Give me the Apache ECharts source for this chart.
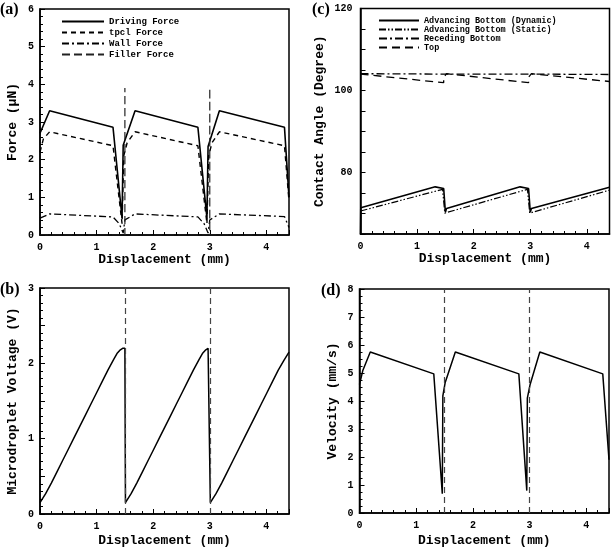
<!DOCTYPE html>
<html>
<head>
<meta charset="utf-8">
<script src="https://cdn.jsdelivr.net/npm/echarts@6/dist/echarts.min.js"></script>
<style>
html,body{margin:0;padding:0;background:#fff;}
#c{width:611px;height:548px;}
</style>
</head>
<body>
<div id="c"></div>
<script>
// ---------- Panel (a): forces ----------
const drivingX = [0, 0.17, 1.29, 1.45, 1.47, 1.68, 2.79, 2.95, 2.97, 3.17, 4.32, 4.4];
const drivingY = [2.7, 3.3, 2.86, 0.45, 2.38, 3.3, 2.86, 0.45, 2.35, 3.3, 2.86, 1.0];
const tpclX = [0, 0.06, 0.17, 1.29, 1.45, 1.48, 1.54, 1.68, 2.79, 2.95, 2.98, 3.04, 3.17, 4.32, 4.4];
const tpclY = [2.2, 2.55, 2.74, 2.37, 0.3, 2.1, 2.45, 2.74, 2.37, 0.3, 2.1, 2.45, 2.74, 2.37, 0.9];
const wallX = [0, 0.17, 1.29, 1.4, 1.47, 1.5, 1.68, 2.79, 2.9, 2.97, 3.0, 3.17, 4.32, 4.4];
const wallY = [0.45, 0.56, 0.48, 0.3, 0.05, 0.4, 0.56, 0.48, 0.3, 0.05, 0.4, 0.56, 0.49, 0.2];
const fillerX = [0, 1.5, 1.5, 1.5, 3.0, 3.0, 3.0, 4.4];
const fillerY = [0, 0, 3.9, 0, 0, 3.9, 0, 0];

// ---------- Panel (b): voltage ----------
const voltX = [0, 0.1, 0.2, 0.3, 0.4, 0.5, 0.6, 0.7, 0.8, 0.9, 1.0, 1.1, 1.2, 1.3, 1.36, 1.42, 1.46, 1.5,
               1.51, 1.61, 1.71, 1.81, 1.91, 2.01, 2.11, 2.21, 2.31, 2.41, 2.51, 2.61, 2.71, 2.81, 2.87, 2.93, 2.97, 3.0,
               3.01, 3.11, 3.21, 3.31, 3.41, 3.51, 3.61, 3.71, 3.81, 3.91, 4.01, 4.11, 4.21, 4.31, 4.4];
const voltY = [0.15, 0.27, 0.41, 0.56, 0.71, 0.86, 1.01, 1.16, 1.31, 1.46, 1.61, 1.76, 1.91, 2.05, 2.13, 2.18, 2.2, 2.2,
               0.15, 0.27, 0.41, 0.56, 0.71, 0.86, 1.01, 1.16, 1.31, 1.46, 1.61, 1.76, 1.91, 2.05, 2.13, 2.18, 2.2, 2.2,
               0.15, 0.27, 0.41, 0.56, 0.71, 0.86, 1.01, 1.16, 1.31, 1.46, 1.61, 1.76, 1.91, 2.04, 2.15];
const dividerX = [1.5, 3.0];

// ---------- Panel (c): contact angles ----------
const dynX = [0, 0.005, 1.32, 1.47, 1.5, 1.52, 2.82, 2.97, 3.0, 3.02, 4.4];
const dynY = [65, 71.4, 76.5, 76.1, 70.3, 71.2, 76.5, 76.1, 70.3, 71.2, 76.4];
const statX = [0, 1.45, 1.49, 1.51, 2.95, 2.99, 3.01, 4.4];
const statY = [70.6, 75.9, 70.1, 70.4, 75.9, 70.1, 70.4, 75.7];
const recX = [0, 1.5, 3.0, 4.4];
const recY = [104.1, 104.0, 104.0, 103.9];
const topX = [0, 1.47, 1.47, 1.52, 2.97, 2.97, 3.02, 4.4];
const topY = [104.0, 101.9, 103.2, 104.1, 101.9, 103.2, 104.1, 102.2];

// ---------- Panel (d): velocity ----------
const velX = [0, 0.06, 0.19, 1.31, 1.46, 1.47, 1.51, 1.69, 2.81, 2.95, 2.96, 3.01, 3.18, 4.29, 4.4];
const velY = [4.59, 5.1, 5.75, 4.97, 0.69, 4.18, 4.65, 5.75, 4.97, 0.8, 4.1, 4.6, 5.75, 4.97, 1.9];

// ---------- text ----------
const panelLabels = ['(a)', '(b)', '(c)', '(d)'];
const xName = 'Displacement (mm)';
const yNames = ['Force (μN)', 'Microdroplet Voltage (V)', 'Contact Angle (Degree)', 'Velocity (mm/s)'];
const legendA = ['Driving Force', 'tpcl Force', 'Wall Force', 'Filler Force'];
const legendC = ['Advancing Bottom (Dynamic)', 'Advancing Bottom (Static)', 'Receding Bottom', 'Top'];

function zip(xs, ys) { return xs.map((x, i) => [x, ys[i]]); }

const MONO = 'Liberation Mono, Courier New, monospace';
const SERIF = 'Liberation Serif, Times New Roman, serif';

const grids = [
  { left: 40, top: 9, width: 249, height: 226 },
  { left: 40, top: 288, width: 249, height: 227 },
  { left: 360.5, top: 8.5, width: 249, height: 225.5 },
  { left: 359.5, top: 289, width: 249.5, height: 225 }
];

function xAxisFor(gi, gap) {
  return {
    type: 'value', gridIndex: gi, min: 0, max: 4.4, interval: 1,
    name: xName, nameLocation: 'middle', nameGap: gap,
    nameTextStyle: { fontFamily: MONO, fontWeight: 'bold', fontSize: 13, color: '#000' },
    axisLine: { show: true, lineStyle: { color: '#000', width: 1.5 } },
    axisTick: { show: true, inside: true, length: 5, lineStyle: { color: '#000', width: 1 } },
    minorTick: { show: true, splitNumber: 5, length: 3, lineStyle: { color: '#000', width: 1 } },
    splitLine: { show: false },
    axisLabel: { showMaxLabel: false, margin: 7, fontFamily: MONO, fontWeight: 'bold', fontSize: 10, color: '#000' }
  };
}
function yAxisFor(gi, name, gap, min, max, interval, minorSplit, labelFn, margin) {
  return {
    type: 'value', gridIndex: gi, min: min, max: max, interval: interval,
    name: name, nameLocation: 'middle', nameGap: gap,
    nameTextStyle: { fontFamily: MONO, fontWeight: 'bold', fontSize: 13, color: '#000' },
    axisLine: { show: true, lineStyle: { color: '#000', width: 1.5 } },
    axisTick: { show: true, inside: true, length: 5, lineStyle: { color: '#000', width: 1 } },
    minorTick: { show: minorSplit > 1, splitNumber: minorSplit, length: 3, lineStyle: { color: '#000', width: 1 } },
    splitLine: { show: false },
    axisLabel: { margin: margin, fontFamily: MONO, fontWeight: 'bold', fontSize: 10, color: '#000',
      formatter: labelFn }
  };
}

function line(name, xi, data, dash, width, color) {
  return {
    name: name, type: 'line', xAxisIndex: xi, yAxisIndex: xi, data: data,
    symbol: 'none', smooth: false, clip: true,
    lineStyle: { color: color || '#000', width: width || 1.5, type: dash || 'solid' },
    itemStyle: { color: color || '#000' }
  };
}

const dividerMark = {
  silent: true, symbol: ['none', 'none'], label: { show: false },
  lineStyle: { color: '#444', width: 1.2, type: [6, 4] },
  data: dividerX.map(v => ({ xAxis: v }))
};

const voltSeries = line('Voltage', 1, zip(voltX, voltY), 'solid', 1.5);
voltSeries.markLine = dividerMark;
const velSeries = line('Velocity', 3, zip(velX, velY), 'solid', 1.5);
velSeries.markLine = JSON.parse(JSON.stringify(dividerMark));

const legendCommon = {
  orient: 'vertical', selectedMode: false, padding: 0,
  itemStyle: { opacity: 0, borderWidth: 0 },
  lineStyle: { opacity: 1 }
};

const option = {
  animation: false,
  backgroundColor: '#fff',
  title: [
    { text: panelLabels[0], left: 0, top: 2 },
    { text: panelLabels[1], left: 0, top: 282 },
    { text: panelLabels[2], left: 312, top: 2 },
    { text: panelLabels[3], left: 321, top: 283 }
  ].map(t => Object.assign(t, { padding: 0, textStyle: { fontFamily: SERIF, fontWeight: 'bold', fontSize: 16, color: '#000' } })),
  grid: grids.map(g => Object.assign({ show: true, borderColor: '#000', borderWidth: 1.5, backgroundColor: 'transparent' }, g)),
  legend: [
    Object.assign({ data: legendA, left: 61, top: 16.5, itemWidth: 42, itemHeight: 10, itemGap: 1,
      textStyle: { fontFamily: MONO, fontWeight: 'bold', fontSize: 9, lineHeight: 10, color: '#000' } }, legendCommon),
    Object.assign({ data: legendC, left: 378, top: 16, itemWidth: 40, itemHeight: 9, itemGap: 0,
      textStyle: { fontFamily: MONO, fontWeight: 'bold', fontSize: 8.5, lineHeight: 9, color: '#000' } }, legendCommon)
  ],
  xAxis: [xAxisFor(0, 17), xAxisFor(1, 20), xAxisFor(2, 17.5), xAxisFor(3, 21)],
  yAxis: [
    yAxisFor(0, yNames[0], 21, 0, 6, 1, 5, v => String(v), 6),
    yAxisFor(1, yNames[1], 21, 0, 3, 0.5, 5, v => (Math.abs(v - Math.round(v)) < 1e-9 ? String(Math.round(v)) : ''), 6),
    yAxisFor(2, yNames[2], 34, 65, 120, 5, 1, v => (v % 20 === 0 ? String(v) : ''), 8),
    yAxisFor(3, yNames[3], 20, 0, 8, 1, 4, v => String(v), 6)
  ],
  series: [
    line(legendA[0], 0, zip(drivingX, drivingY), 'solid', 1.6),
    line(legendA[1], 0, zip(tpclX, tpclY), [5, 4], 1.4),
    line(legendA[2], 0, zip(wallX, wallY), [7, 3, 2, 3], 1.3),
    line(legendA[3], 0, zip(fillerX, fillerY), [8, 4], 1.2, '#222'),
    voltSeries,
    line(legendC[0], 2, zip(dynX, dynY), 'solid', 1.6),
    line(legendC[1], 2, zip(statX, statY), [7, 2, 1.5, 2, 1.5, 2], 1.2),
    line(legendC[2], 2, zip(recX, recY), [8, 3, 2, 3], 1.3),
    line(legendC[3], 2, zip(topX, topY), [8, 5], 1.3),
    velSeries
  ]
};

const chart = echarts.init(document.getElementById('c'), null, { renderer: 'canvas' });
chart.setOption(option);
</script>
</body>
</html>
